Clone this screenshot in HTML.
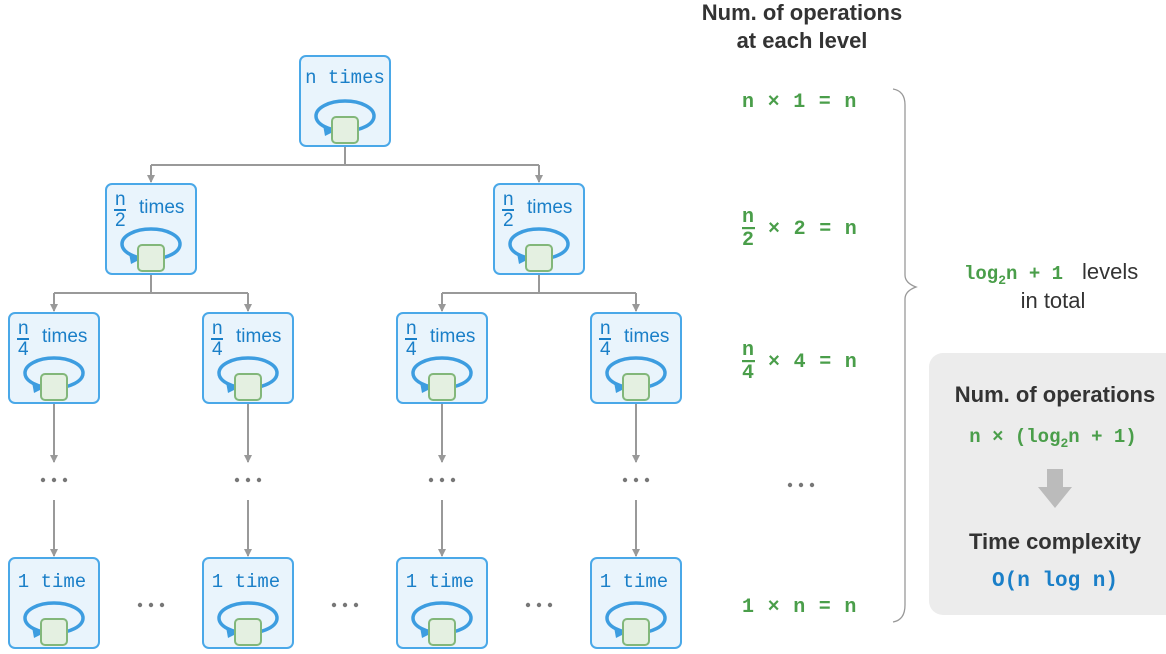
<!DOCTYPE html>
<html><head><meta charset="utf-8"><style>
body{margin:0;background:#fff;width:1166px;height:654px;overflow:hidden}
svg{display:block}
.m{font-family:"Liberation Mono",monospace;font-weight:bold}
.s{font-family:"Liberation Sans",sans-serif}
</style></head><body>
<svg width="1166" height="654" viewBox="0 0 1166 654">
<defs>
<g id="box">
<rect x="1" y="1" width="90" height="90" rx="6" fill="#e9f4fc" stroke="#4aa8e8" stroke-width="2"/>
<ellipse cx="46" cy="61" rx="29" ry="15" fill="none" stroke="#3d9de0" stroke-width="3.5"/>
<path d="M24,70 L36,76 L26,81 Z" fill="#3d9de0"/>
<rect x="33" y="62" width="26" height="26" rx="4" fill="#e4f0e1" stroke="#82b77a" stroke-width="2"/>
</g>
<g id="dots" fill="#777"><circle cx="-11" cy="0" r="2.2"/><circle cx="0" cy="0" r="2.2"/><circle cx="11" cy="0" r="2.2"/></g>
<marker id="ar" markerWidth="8" markerHeight="8" refX="7" refY="4" orient="auto" markerUnits="userSpaceOnUse"><path d="M0,0 L8,4 L0,8 Z" fill="#999"/></marker>
</defs>
<g stroke="#999" stroke-width="2" fill="none">
<path d="M345,146 V165 M151,165 H539"/>
<path d="M151,165 V182" marker-end="url(#ar)"/><path d="M539,165 V182" marker-end="url(#ar)"/>
<path d="M151,275 V293 M54,293 H248 M539,275 V293 M442,293 H636"/>
<path d="M54,293 V311" marker-end="url(#ar)"/><path d="M248,293 V311" marker-end="url(#ar)"/>
<path d="M442,293 V311" marker-end="url(#ar)"/><path d="M636,293 V311" marker-end="url(#ar)"/>
<path d="M54,404 V462" marker-end="url(#ar)"/><path d="M248,404 V462" marker-end="url(#ar)"/>
<path d="M442,404 V462" marker-end="url(#ar)"/><path d="M636,404 V462" marker-end="url(#ar)"/>
<path d="M54,500 V556" marker-end="url(#ar)"/><path d="M248,500 V556" marker-end="url(#ar)"/>
<path d="M442,500 V556" marker-end="url(#ar)"/><path d="M636,500 V556" marker-end="url(#ar)"/>
</g>
<use href="#box" x="299" y="55"/>
<use href="#box" x="105" y="183"/><use href="#box" x="493" y="183"/>
<use href="#box" x="8" y="312"/><use href="#box" x="202" y="312"/><use href="#box" x="396" y="312"/><use href="#box" x="590" y="312"/>
<use href="#box" x="8" y="557"/><use href="#box" x="202" y="557"/><use href="#box" x="396" y="557"/><use href="#box" x="590" y="557"/>
<g fill="#1a7fc8">
<text x="345" y="83" font-family="Liberation Mono, monospace" font-size="19" text-anchor="middle">n times</text>
<g class="s" font-size="19">
<text x="115" y="205">n</text><rect x="114" y="209" width="12" height="2"/><text x="115" y="226">2</text><text x="139" y="213">times</text>
<text x="503" y="205">n</text><rect x="502" y="209" width="12" height="2"/><text x="503" y="226">2</text><text x="527" y="213">times</text>
<text x="18" y="334">n</text><rect x="17" y="338" width="12" height="2"/><text x="18" y="355">4</text><text x="42" y="342">times</text>
<text x="212" y="334">n</text><rect x="211" y="338" width="12" height="2"/><text x="212" y="355">4</text><text x="236" y="342">times</text>
<text x="406" y="334">n</text><rect x="405" y="338" width="12" height="2"/><text x="406" y="355">4</text><text x="430" y="342">times</text>
<text x="600" y="334">n</text><rect x="599" y="338" width="12" height="2"/><text x="600" y="355">4</text><text x="624" y="342">times</text>
</g>
<g font-family="Liberation Mono, monospace" font-size="19" text-anchor="middle">
<text x="52" y="587">1 time</text><text x="246" y="587">1 time</text><text x="440" y="587">1 time</text><text x="634" y="587">1 time</text>
</g>
</g>
<use href="#dots" x="54" y="480"/><use href="#dots" x="248" y="480"/><use href="#dots" x="442" y="480"/><use href="#dots" x="636" y="480"/>
<use href="#dots" x="151" y="605"/><use href="#dots" x="345" y="605"/><use href="#dots" x="539" y="605"/>
<use href="#dots" x="801" y="485"/>
<g class="s" font-weight="bold" fill="#333" font-size="22" text-anchor="middle">
<text x="802" y="20">Num. of operations</text><text x="802" y="48">at each level</text>
</g>
<g class="m" fill="#4a9e4a" font-size="20">
<text x="742" y="107" letter-spacing="0.8" xml:space="preserve">n × 1 = n</text>
<text x="742" y="222">n</text><rect x="742" y="227" width="13" height="2.2"/><text x="742" y="245">2</text>
<text x="768" y="234" letter-spacing="0.8" xml:space="preserve">× 2 = n</text>
<text x="742" y="355">n</text><rect x="742" y="360" width="13" height="2.2"/><text x="742" y="378">4</text>
<text x="768" y="367" letter-spacing="0.8" xml:space="preserve">× 4 = n</text>
<text x="742" y="612" letter-spacing="0.8" xml:space="preserve">1 × n = n</text>
</g>
<path d="M893,89 Q905,91 905,105 V275 Q905,283 916,287 Q905,291 905,299 V605 Q905,620 893,622" fill="none" stroke="#999" stroke-width="1.3"/>
<text x="964" y="279" class="m" fill="#4a9e4a" font-size="19">log<tspan font-size="13" dy="5">2</tspan><tspan dy="-5">n + 1</tspan></text>
<text x="1082" y="279" class="s" fill="#333" font-size="22">levels</text>
<text x="1053" y="308" class="s" fill="#333" font-size="22" text-anchor="middle">in total</text>
<rect x="929" y="353" width="260" height="262" rx="14" fill="#ececec"/>
<g class="s" font-weight="bold" fill="#333" font-size="22" text-anchor="middle">
<text x="1055" y="402">Num. of operations</text><text x="1055" y="549">Time complexity</text>
</g>
<text x="1053" y="442" class="m" fill="#4a9e4a" font-size="19" text-anchor="middle">n × (log<tspan font-size="13" dy="5">2</tspan><tspan dy="-5">n + 1)</tspan></text>
<path d="M1047,469 H1063 V487 H1072 L1055,508 L1038,487 H1047 Z" fill="#bbb"/>
<text x="1055" y="586" class="m" fill="#1a7fc8" font-size="21" text-anchor="middle">O(n log n)</text>
</svg>
</body></html>
